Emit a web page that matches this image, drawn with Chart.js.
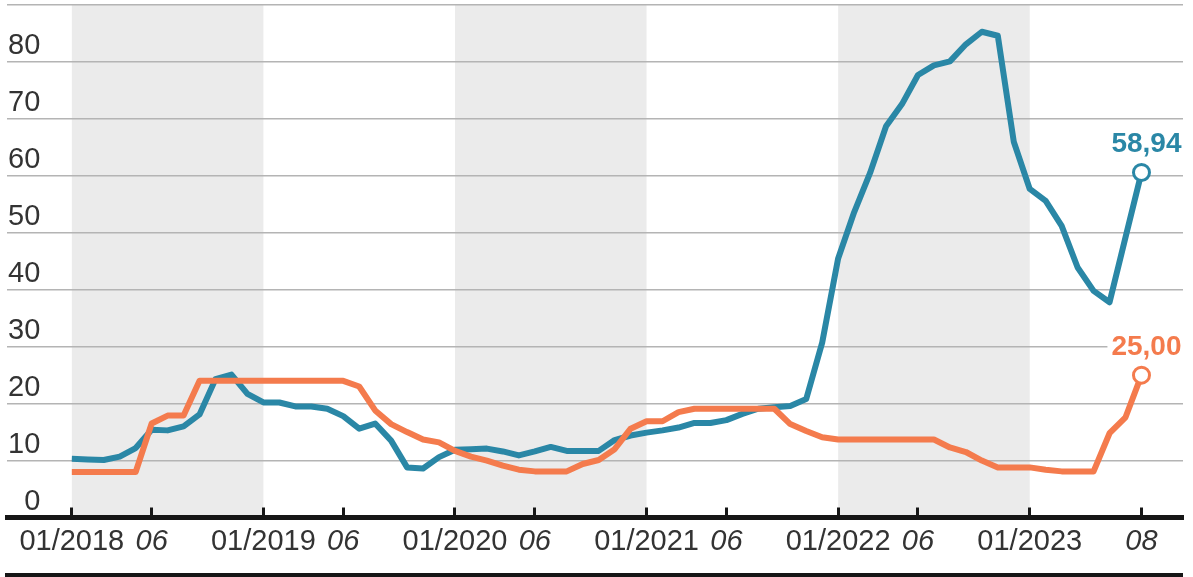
<!DOCTYPE html>
<html><head><meta charset="utf-8">
<script src="https://cdn.jsdelivr.net/npm/chart.js@4.4.1/dist/chart.umd.min.js"></script>
<style>
html,body{margin:0;padding:0;background:#fff;}
#wrap{position:relative;width:1193px;height:577px;overflow:hidden;background:#fff;}
#bar{position:absolute;left:5px;top:573px;width:1178px;height:4px;background:#161616;}
canvas{display:block;}
</style></head><body>
<div id="wrap"><canvas id="c" width="1193" height="573"></canvas><div id="bar"></div></div>
<script>
const FONT = '"Liberation Sans", Arial, sans-serif';

// month index 0 = 01/2018 ... 67 = 08/2023
const years = [2018, 2019, 2020, 2021, 2022, 2023];
const months = [];
years.forEach(y => { for (let m = 1; m <= 12; m++) { if (months.length < 68) months.push(String(m).padStart(2,'0') + '/' + y); } });

// blue series
const inflation = [
  10.3, 10.2, 10.1, 10.7, 12.2, 15.4, 15.3, 16.0, 18.1, 24.3, 25.1, 21.7,
  20.2, 20.2, 19.5, 19.5, 19.1, 17.8, 15.6, 16.5, 13.5, 8.8, 8.6, 10.6,
  11.9, 12.0, 12.1, 11.6, 10.9, 11.6, 12.4, 11.7, 11.7, 11.7, 13.6, 14.4,
  14.9, 15.3, 15.8, 16.6, 16.6, 17.1, 18.2, 19.1, 19.35, 19.6, 20.8, 30.7,
  45.5, 53.6, 60.5, 68.7, 72.6, 77.7, 79.4, 80.1, 83.1, 85.3, 84.6, 66.0,
  57.7, 55.6, 51.2, 43.9, 39.8, 37.8, 49.2, 60.6
];
// orange series
const policyRate = [
  8.0, 8.0, 8.0, 8.0, 8.0, 16.5, 17.9, 17.9, 24.0, 24.0, 24.0, 24.0,
  24.0, 24.0, 24.0, 24.0, 24.0, 24.0, 23.0, 18.8, 16.4, 15.0, 13.7, 13.2,
  11.7, 10.7, 10.0, 9.1, 8.4, 8.1, 8.1, 8.1, 9.4, 10.1, 12.0, 15.6,
  16.9, 16.9, 18.5, 19.1, 19.1, 19.1, 19.1, 19.1, 19.1, 16.4, 15.2, 14.1,
  13.7, 13.7, 13.7, 13.7, 13.7, 13.7, 13.7, 12.3, 11.5, 10.0, 8.8, 8.8,
  8.8, 8.4, 8.1, 8.1, 8.1, 14.8, 17.6, 25.0
];

const tickMonths = [0, 5, 12, 17, 24, 29, 36, 41, 48, 53, 60, 67];
const tickLabels = ['01/2018', '06', '01/2019', '06', '01/2020', '06', '01/2021', '06', '01/2022', '06', '01/2023', '08'];
const italicLabels = ['06', '08'];
const shadedSpans = [[0, 12], [24, 36], [48, 60]];
const endLabels = ['58,94', '25,00'];
const yMin = 0, yMax = 90, yStep = 10;

const BLUE = '#2a87a6';
const ORANGE = '#f47b4d';

const shadePlugin = {
  id: 'shade',
  beforeDraw(chart) {
    const {ctx, chartArea, scales} = chart;
    ctx.save();
    ctx.fillStyle = '#ebebeb';
    shadedSpans.forEach(([a, b]) => {
      const x1 = scales.x.getPixelForValue(a);
      const x2 = scales.x.getPixelForValue(b);
      ctx.fillRect(x1, chartArea.top, x2 - x1, chartArea.bottom - chartArea.top);
    });
    ctx.restore();
  }
};

const endLabelPlugin = {
  id: 'endLabels',
  afterDatasetsDraw(chart) {
    const ctx = chart.ctx;
    chart.data.datasets.forEach((ds, di) => {
      const meta = chart.getDatasetMeta(di);
      const pt = meta.data[meta.data.length - 1];
      ctx.save();
      ctx.font = 'bold 28px ' + FONT;
      ctx.textAlign = 'right';
      ctx.textBaseline = 'alphabetic';
      const txt = ds.endLabel;
      const w = ctx.measureText(txt).width;
      const right = pt.x + 40;
      const base = pt.y - 20;
      ctx.fillStyle = '#ffffff';
      ctx.fillRect(right - w - 4, base - 23, w + 8, 27);
      ctx.fillStyle = ds.borderColor;
      ctx.fillText(txt, right, base);
      ctx.restore();
    });
  }
};

const lastIdx = inflation.length - 1;
function mkData(arr) { return arr.map((v, i) => ({x: i, y: v})); }

new Chart(document.getElementById('c'), {
  type: 'line',
  data: {
    labels: months,
    datasets: [
      {
        label: 'Leitzins', endLabel: endLabels[1], data: mkData(policyRate),
        borderColor: ORANGE, borderWidth: 6, tension: 0,
        borderJoinStyle: 'round', borderCapStyle: 'butt',
        pointRadius: c => c.dataIndex === lastIdx ? 8 : 0,
        pointBorderWidth: 3, pointBackgroundColor: '#fff', pointBorderColor: ORANGE,
        clip: false
      },
      {
        label: 'Inflation', endLabel: endLabels[0], data: mkData(inflation),
        borderColor: BLUE, borderWidth: 6, tension: 0,
        borderJoinStyle: 'round', borderCapStyle: 'butt',
        pointRadius: c => c.dataIndex === lastIdx ? 8 : 0,
        pointBorderWidth: 3, pointBackgroundColor: '#fff', pointBorderColor: BLUE,
        clip: false
      }
    ]
  },
  options: {
    responsive: false,
    animation: false,
    events: [],
    layout: {autoPadding: false, padding: {left: 5, right: 10, top: 5, bottom: 0}},
    plugins: {legend: {display: false}, tooltip: {enabled: false}},
    scales: {
      x: {
        type: 'linear',
        min: -4.06, max: 69.6,
        afterBuildTicks: s => { s.ticks = tickMonths.map(v => ({value: v})); },
        afterFit: s => { s.height = 55.5; s.paddingLeft = 0; s.paddingRight = 0; },
        grid: {drawOnChartArea: false, drawTicks: true, tickLength: -10, tickWidth: 3, tickColor: '#161616'},
        border: {display: true, color: '#161616', width: 5},
        ticks: {
          autoSkip: false, maxRotation: 0, padding: 17.5, color: '#333',
          callback: v => tickLabels[tickMonths.indexOf(v)] ?? '',
          font: c => ({family: FONT, size: 29, style: (c.tick && italicLabels.includes(tickLabels[tickMonths.indexOf(c.tick.value)])) ? 'italic' : 'normal'})
        }
      },
      y: {
        min: yMin, max: yMax,
        afterFit: s => { s.paddingTop = 0; s.paddingBottom = 0; },
        grid: {drawTicks: false, color: c => c.tick && c.tick.value === 0 ? 'rgba(0,0,0,0)' : '#b4b4b4', lineWidth: 1.6},
        border: {display: false},
        ticks: {
          stepSize: yStep, mirror: true, crossAlign: 'far', padding: 1, labelOffset: -16,
          color: '#333', font: {family: FONT, size: 29},
          callback: v => v === yMax ? '' : String(v)
        }
      }
    }
  },
  plugins: [shadePlugin, endLabelPlugin]
});
</script>
</body></html>
